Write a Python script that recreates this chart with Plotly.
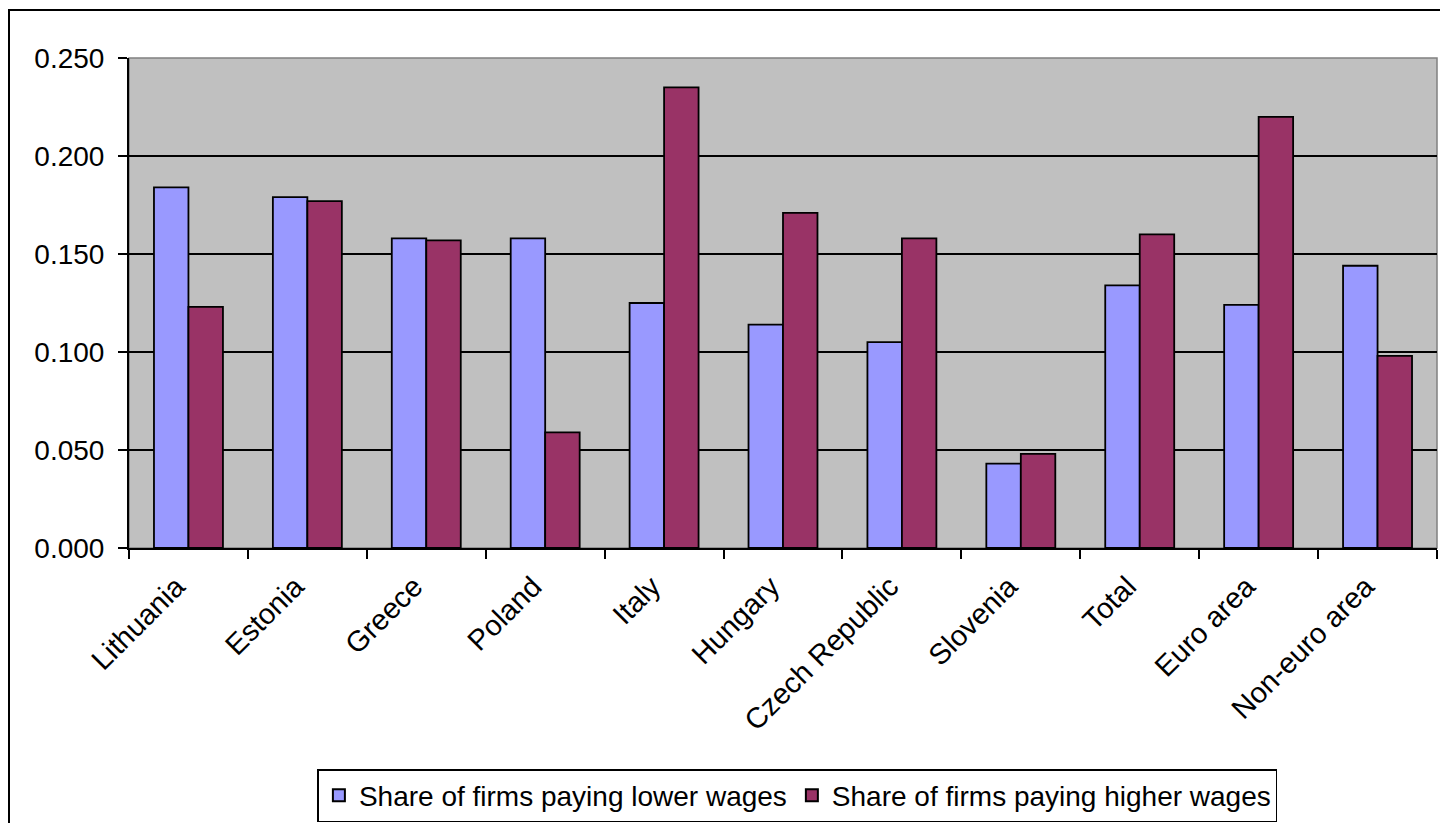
import plotly.graph_objects as go

# Categories and series values
countries = ["Lithuania", "Estonia", "Greece", "Poland", "Italy", "Hungary",
             "Czech Republic", "Slovenia", "Total", "Euro area", "Non-euro area"]
lower_wages = [0.184, 0.179, 0.158, 0.158, 0.125, 0.114, 0.105, 0.043, 0.134, 0.124, 0.144]
higher_wages = [0.123, 0.177, 0.157, 0.059, 0.235, 0.171, 0.158, 0.048, 0.160, 0.220, 0.098]
y_ticks = [0.0, 0.05, 0.10, 0.15, 0.20, 0.25]

FONT = "Liberation Sans, Arial, sans-serif"

fig = go.Figure()
fig.add_trace(go.Bar(
    x=countries, y=lower_wages, name="Share of firms paying lower wages",
    marker=dict(color="#9999FF", line=dict(color="black", width=1.8)),
))
fig.add_trace(go.Bar(
    x=countries, y=higher_wages, name="Share of firms paying higher wages",
    marker=dict(color="#993366", line=dict(color="black", width=1.8)),
))

# Plot-area geometry in pixels
L, R, T, B = 129, 3, 58, 274
W, H = 1440, 823
pw, ph = W - L - R, H - T - B

def px_x(x):
    return (x - L) / pw

def px_y(y):
    return (H - B - y) / ph

shapes = [
    # outer chart frame
    dict(type="rect", xref="paper", yref="paper",
         x0=px_x(9), x1=px_x(1450), y0=px_y(10), y1=px_y(840),
         line=dict(color="black", width=2), fillcolor="rgba(0,0,0,0)", layer="below"),
    # plot-area frame
    dict(type="rect", xref="paper", yref="paper", x0=0, x1=1, y0=0, y1=1,
         line=dict(color="#808080", width=1.5), fillcolor="rgba(0,0,0,0)", layer="below"),
]

fig.update_layout(
    width=W, height=H,
    margin=dict(l=L, r=R, t=T, b=B),
    paper_bgcolor="white",
    plot_bgcolor="#C0C0C0",
    barmode="group",
    bargap=0.42,
    bargroupgap=0,
    font=dict(family=FONT, size=28, color="black"),
    shapes=shapes,
    legend=dict(
        orientation="h", x=0.511, xanchor="center", y=px_y(769), yanchor="top",
        bordercolor="black", borderwidth=1.5, bgcolor="white",
        font=dict(family=FONT, size=28), itemwidth=30, tracegroupgap=0,
        itemsizing="constant",
    ),
    showlegend=True,
)

fig.update_yaxes(
    range=[0, 0.25], tickvals=y_ticks, tickformat=".3f",
    showgrid=True, gridcolor="black", gridwidth=1.5,
    showline=True, linecolor="black", linewidth=2,
    ticks="outside", ticklen=9, tickwidth=2, tickcolor="black",
    ticklabelstandoff=8, zeroline=False,
    tickfont=dict(family=FONT, size=28),
)
fig.update_xaxes(
    tickangle=-45, tickson="boundaries",
    showline=True, linecolor="black", linewidth=2,
    ticks="outside", ticklen=9, tickwidth=2, tickcolor="black",
    ticklabelstandoff=8, ticklabelshift=-12,
    tickfont=dict(family=FONT, size=29), showgrid=False,
)

fig.write_html("out.html")
